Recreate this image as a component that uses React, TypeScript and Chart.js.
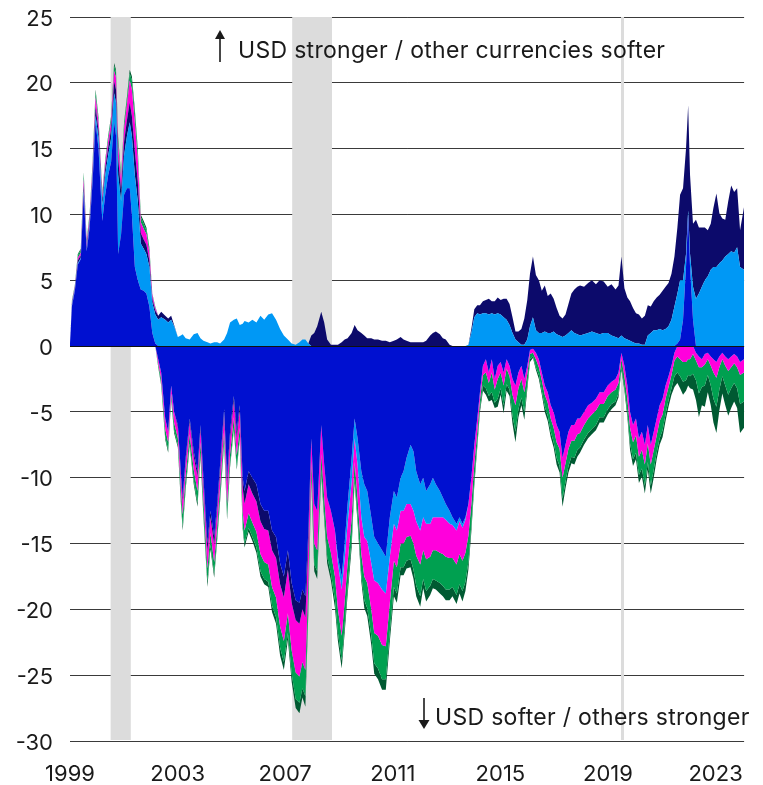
import React, { useEffect, useRef } from 'react';
import { Chart, registerables } from 'chart.js';

Chart.register(...registerables);

// ---- Data (decimal years; contributions in % points) ----
const dates = [
  1999.66, 1999.73, 1999.84, 1999.95, 2000.06, 2000.17, 2000.28, 2000.39, 2000.5, 2000.61,
  2000.72, 2000.86, 2000.97, 2001.08, 2001.19, 2001.3, 2001.37, 2001.45, 2001.56, 2001.67,
  2001.78, 2001.88, 2001.96, 2002.07, 2002.18, 2002.29, 2002.4, 2002.5, 2002.61, 2002.72,
  2002.83, 2002.94, 2003.05, 2003.2, 2003.31, 2003.42, 2003.53, 2003.67, 2003.78, 2003.85,
  2003.96, 2004.11, 2004.26, 2004.4, 2004.51, 2004.62, 2004.77, 2004.88, 2005.02, 2005.13,
  2005.24, 2005.39, 2005.5, 2005.61, 2005.75, 2005.86, 2005.97, 2006.08, 2006.15, 2006.3,
  2006.44, 2006.59, 2006.74, 2006.88, 2007.03, 2007.17, 2007.32, 2007.47, 2007.61, 2007.76,
  2007.9, 2008.05, 2008.19, 2008.3, 2008.41, 2008.52, 2008.63, 2008.74, 2008.85, 2009.0,
  2009.11, 2009.22, 2009.36, 2009.51, 2009.62, 2009.76, 2009.87, 2009.98, 2010.13, 2010.24,
  2010.35, 2010.49, 2010.6, 2010.71, 2010.86, 2010.97, 2011.11, 2011.26, 2011.4, 2011.55,
  2011.7, 2011.81, 2011.95, 2012.06, 2012.17, 2012.32, 2012.43, 2012.53, 2012.68, 2012.79,
  2012.9, 2013.05, 2013.15, 2013.26, 2013.41, 2013.52, 2013.63, 2013.77, 2013.88, 2014.03,
  2014.14, 2014.25, 2014.36, 2014.47, 2014.58, 2014.69, 2014.8, 2014.9, 2015.01, 2015.12,
  2015.23, 2015.34, 2015.45, 2015.56, 2015.67, 2015.78, 2015.89, 2016.0, 2016.11, 2016.22,
  2016.33, 2016.44, 2016.55, 2016.66, 2016.76, 2016.87, 2016.98, 2017.09, 2017.2, 2017.31,
  2017.42, 2017.53, 2017.64, 2017.75, 2017.86, 2017.97, 2018.08, 2018.19, 2018.3, 2018.41,
  2018.52, 2018.62, 2018.77, 2018.92, 2019.06, 2019.21, 2019.35, 2019.5, 2019.65, 2019.79,
  2019.94, 2020.05, 2020.16, 2020.27, 2020.38, 2020.48, 2020.59, 2020.7, 2020.81, 2020.92,
  2021.03, 2021.14, 2021.25, 2021.36, 2021.47, 2021.58, 2021.69, 2021.8, 2021.91, 2022.02,
  2022.13, 2022.24, 2022.34, 2022.45, 2022.56, 2022.64, 2022.71, 2022.82, 2022.93, 2023.04,
  2023.15, 2023.26, 2023.37, 2023.48, 2023.58, 2023.69, 2023.8, 2023.91, 2024.02, 2024.13,
  2024.24, 2024.35, 2024.46, 2024.57, 2024.72,
];

const blueSeries = [
  0.2, 3.0, 4.2, 6.2, 6.6, 11.6, 7.2, 9.0, 12.5, 17.0,
  15.0, 9.5, 11.5, 13.0, 14.0, 17.0, 16.0, 7.0, 8.5, 11.5,
  12.0, 12.0, 10.0, 6.0, 5.0, 4.3, 4.2, 4.0, 3.0, 1.0,
  0.2, -1.0, -2.0, -5.5, -6.5, -3.0, -5.0, -6.0, -9.5, -11.5,
  -8.5, -5.5, -8.0, -9.5, -6.0, -10.0, -15.0, -12.5, -14.5, -12.0,
  -9.0, -4.8, -10.0, -6.5, -3.8, -6.5, -4.5, -10.0, -11.0, -9.5,
  -10.0, -10.5, -12.0, -12.5, -12.5, -14.0, -14.5, -16.5, -17.5, -15.5,
  -18.0, -19.3, -19.5, -18.5, -19.0, -14.0, -7.0, -12.0, -12.5, -6.0,
  -9.0, -11.5, -12.5, -14.0, -16.0, -17.5, -15.0, -12.0, -8.5, -5.5,
  -7.0, -9.5, -10.5, -11.0, -13.0, -14.5, -15.0, -15.5, -16.0, -13.0,
  -11.0, -11.5, -10.0, -9.5, -8.5, -7.5, -8.0, -9.5, -10.5, -10.0,
  -11.0, -10.5, -10.0, -10.5, -11.0, -11.5, -12.0, -12.5, -13.0, -13.5,
  -13.0, -13.5, -13.0, -12.0, -10.0, -7.5, -5.5, -3.5, -1.5, -1.0,
  -2.0, -1.0, -2.5, -1.5, -1.2, -2.0, -1.0, -1.5, -2.5, -3.0,
  -2.0, -1.5, -2.5, -1.5, -0.3, -0.2, -0.5, -1.0, -2.0, -3.0,
  -3.5, -4.5, -5.0, -6.0, -6.5, -8.5, -7.5, -6.5, -6.0, -6.0,
  -5.5, -5.5, -5.0, -4.5, -4.3, -4.0, -3.5, -3.5, -3.0, -2.7,
  -2.5, -2.0, -0.5, -1.5, -3.0, -5.0, -6.0, -5.5, -7.0, -6.5,
  -7.5, -6.0, -7.5, -6.5, -5.5, -4.5, -4.0, -3.0, -2.3, -1.5,
  -0.5, 0.2, 0.5, 2.0, 6.0, 10.0, 6.0, 2.0, -0.5, -0.8,
  -1.0, -0.6, -0.5, -0.8, -1.0, -1.2, -0.8, -0.5, -0.8, -1.0,
  -0.8, -0.6, -0.8, -1.2, -1.0,
];

const lightBlueSeries = [
  0, 0.1, 0.1, 0.1, 0.1, 0.2, 0.1, 0.2, 0.3, 0.5,
  0.8, 1.2, 1.5, 1.5, 1.8, 2.2, 2.5, 6.0, 2.5, 3.0,
  4.0, 5.0, 6.0, 7.0, 6.0, 3.5, 3.2, 3.0, 3.0, 2.3,
  2.2, 2.0, 2.2, 2.0, 1.8, 2.0, 1.5, 0.7, 0.8, 0.9,
  0.6, 0.5, 0.9, 1.0, 0.6, 0.4, 0.3, 0.2, 0.3, 0.3,
  0.2, 0.5, 1.0, 1.8, 2.0, 2.1, 1.6, 1.7, 1.9, 1.8,
  2.0, 1.8, 2.3, 2.0, 2.4, 2.5, 2.0, 1.3, 0.8, 0.5,
  0.2, 0.1, 0.3, 0.5, 0.5, 0.2, 0, 0, 0, 0,
  0, 0, 0, 0, -0.5, -1.0, -1.2, -1.5, -1.8, -1.5,
  -2.0, -3.5, -4.0, -3.8, -3.5, -3.3, -3.0, -3.0, -2.8, -3.0,
  -2.5, -2.5, -2.5, -3.0, -3.5, -4.5, -4.5, -3.8, -3.5, -3.0,
  -2.5, -3.0, -3.0, -2.5, -2.0, -1.5, -1.2, -1.0, -0.6, -0.5,
  -0.3, -0.3, -0.2, 0.1, 1.0, 2.2, 2.5, 2.4, 2.5, 2.5,
  2.4, 2.5, 2.4, 2.5, 2.4, 2.2, 2.0, 1.6, 1.0, 0.5,
  0.3, 0.1, 0.1, 0.5, 1.5, 2.2, 1.2, 1.0, 1.0, 1.1,
  1.0, 1.0, 1.1, 0.9, 0.8, 0.7, 0.8, 1.0, 1.2, 1.0,
  0.9, 0.8, 0.9, 1.0, 1.1, 1.0, 0.9, 1.0, 1.0, 0.8,
  0.7, 0.6, 0.8, 0.6, 0.5, 0.4, 0.3, 0.2, 0.2, 0.1,
  0.1, 0.8, 1.0, 1.2, 1.2, 1.3, 1.2, 1.3, 1.5, 2.0,
  3.0, 3.8, 4.5, 3.0, 1.0, 0.3, 1.0, 2.5, 3.6, 4.0,
  4.5, 5.0, 5.3, 5.8, 6.0, 6.0, 6.3, 6.5, 6.8, 7.0,
  7.2, 7.1, 7.5, 6.0, 5.8,
];

const navySeries = [
  0, 0.1, 0.1, 0.2, 0.2, 0.4, 0.2, 0.3, 0.4, 0.7,
  0.6, 0.4, 0.5, 0.6, 0.7, 0.9, 1.0, 1.2, 0.8, 1.0,
  1.2, 1.5, 1.5, 1.8, 1.5, 0.8, 0.7, 0.7, 0.5, 0.3,
  0.3, 0.3, 0.4, 0.3, 0.3, 0.3, 0.1, -0.2, -0.3, -0.3,
  -0.3, -0.3, -0.4, -0.4, -0.3, -0.5, -0.6, -0.5, -0.6, -0.5,
  -0.5, -0.4, -0.5, -0.5, -0.4, -0.5, -0.4, -0.8, -1.0, -1.0,
  -1.2, -1.3, -1.3, -1.4, -1.5, -1.5, -1.6, -1.6, -1.6, -1.5,
  -1.5, -1.5, -1.6, -1.5, -1.6, -1.0, 0.8, 1.0, 1.5, 2.6,
  1.8, 0.5, 0.1, 0.1, 0.1, 0.3, 0.5, 0.6, 1.0, 1.6,
  1.2, 1.0, 0.8, 0.6, 0.6, 0.5, 0.5, 0.4, 0.4, 0.3,
  0.4, 0.5, 0.7, 0.5, 0.4, 0.3, 0.3, 0.3, 0.3, 0.3,
  0.4, 0.8, 1.0, 1.1, 0.9, 0.6, 0.5, 0.1, 0, 0,
  0, 0, 0, 0, 0.3, 0.6, 0.6, 0.7, 0.9, 1.0,
  1.2, 0.9, 1.0, 1.2, 1.1, 1.4, 1.6, 1.6, 1.2, 0.6,
  0.8, 1.2, 2.0, 3.0, 4.0, 4.6, 4.2, 4.0, 3.2, 3.5,
  2.8, 3.0, 2.5, 2.0, 1.5, 1.4, 1.6, 2.2, 2.8, 3.3,
  3.6, 3.8, 3.6, 3.8, 3.9, 3.7, 4.1, 3.9, 3.5, 3.9,
  3.6, 4.0, 6.0, 3.8, 3.2, 3.0, 2.6, 2.3, 2.2, 2.0,
  2.2, 2.3, 2.0, 2.2, 2.5, 2.6, 3.0, 3.2, 3.3, 3.5,
  3.8, 5.0, 6.5, 7.0, 8.0, 8.0, 6.0, 4.8, 6.0, 5.0,
  4.5, 4.0, 3.5, 3.5, 4.5, 5.6, 3.8, 3.2, 2.8, 4.0,
  5.0, 4.6, 4.5, 2.8, 4.8,
];

const magentaSeries = [
  0, 0.1, 0.1, 0.2, 0.2, 0.5, 0.3, 0.3, 0.4, 0.7,
  0.6, 0.3, 0.4, 0.5, 0.6, 0.8, 0.9, 1.0, 0.8, 1.0,
  1.2, 1.7, 2.0, 2.2, 1.7, 0.8, 0.8, 0.8, 0.6, 0.3,
  0.2, -0.3, -0.5, -0.8, -0.8, -0.6, -0.8, -0.8, -1.0, -1.0,
  -1.0, -0.9, -1.0, -1.1, -1.0, -1.2, -1.3, -1.2, -1.3, -1.2,
  -1.2, -1.2, -1.5, -1.2, -1.2, -1.3, -1.3, -1.8, -2.0, -2.2,
  -2.2, -2.3, -2.5, -2.5, -2.6, -2.8, -3.0, -3.2, -3.3, -3.3,
  -3.6, -4.0, -4.0, -4.0, -4.0, -3.0, -1.8, -3.0, -3.0, -2.2,
  -2.5, -3.0, -3.2, -3.5, -3.5, -3.5, -3.2, -3.0, -2.8, -1.8,
  -2.5, -2.8, -3.0, -3.2, -3.5, -4.0, -4.0, -4.2, -4.0, -3.5,
  -2.8, -2.8, -2.5, -2.5, -2.5, -2.4, -2.5, -2.6, -2.6, -2.5,
  -2.7, -2.5, -2.5, -2.5, -2.7, -2.8, -2.8, -2.6, -2.5, -2.6,
  -2.5, -2.5, -2.5, -2.4, -2.0, -1.5, -1.0, -0.6, -0.7, -1.0,
  -0.8, -1.0, -0.8, -1.0, -0.8, -1.0, -0.7, -0.8, -1.2, -1.5,
  -1.2, -1.0, -1.0, -0.6, -0.3, -0.3, -0.5, -0.6, -0.6, -0.7,
  -0.8, -1.0, -1.2, -1.3, -1.3, -1.5, -1.4, -1.3, -1.2, -1.2,
  -1.2, -1.1, -1.0, -1.0, -0.9, -0.9, -0.9, -0.9, -0.8, -0.8,
  -0.8, -0.8, -0.5, -0.8, -1.0, -1.2, -1.3, -1.3, -1.4, -1.4,
  -1.5, -1.4, -1.5, -1.4, -1.3, -1.2, -1.2, -1.0, -0.8, -0.7,
  -0.6, -0.8, -1.0, -1.2, -1.2, -1.0, -1.0, -0.6, -0.6, -0.8,
  -0.6, -0.8, -0.5, -0.7, -1.0, -1.2, -0.8, -0.5, -0.7, -0.9,
  -0.8, -0.7, -0.8, -1.0, -1.0,
];

const greenSeries = [
  0, 0.1, 0.1, 0.2, 0.2, 0.4, 0.2, 0.2, 0.3, 0.4,
  0.3, 0.2, 0.2, 0.3, 0.3, 0.4, 0.4, 0.5, 0.3, 0.4,
  0.4, 0.5, 0.7, 0.7, 0.6, 0.4, 0.4, 0.3, 0.3, 0.1,
  0.1, -0.2, -0.4, -0.6, -0.6, -0.4, -0.6, -0.5, -0.8, -0.9,
  -0.8, -0.7, -0.8, -0.9, -0.8, -1.0, -1.0, -0.9, -0.9, -0.8,
  -0.8, -0.7, -0.9, -0.8, -0.8, -0.9, -0.7, -1.0, -1.0, -1.1,
  -1.1, -1.2, -1.3, -1.3, -1.3, -1.4, -1.5, -1.6, -1.6, -1.5,
  -1.8, -2.0, -2.0, -2.0, -2.0, -1.7, -1.0, -1.6, -1.6, -1.2,
  -1.3, -1.5, -1.6, -1.8, -1.8, -1.9, -1.8, -1.8, -1.6, -1.2,
  -1.4, -1.6, -1.8, -1.9, -2.0, -2.3, -2.5, -2.6, -2.5, -2.2,
  -2.0, -2.0, -1.8, -1.8, -1.8, -1.8, -2.0, -2.3, -2.4, -2.2,
  -2.4, -2.2, -2.2, -2.3, -2.3, -2.4, -2.5, -2.4, -2.2, -2.3,
  -2.3, -2.3, -2.2, -2.0, -1.6, -1.2, -0.9, -0.6, -0.8, -1.2,
  -1.0, -1.5, -1.0, -1.5, -1.2, -1.5, -1.2, -1.0, -1.6, -2.0,
  -1.6, -1.4, -1.5, -0.8, -0.4, -0.3, -0.6, -0.6, -0.8, -0.9,
  -1.0, -1.0, -1.1, -1.2, -1.3, -1.6, -1.4, -1.3, -1.2, -1.3,
  -1.2, -1.1, -1.1, -1.1, -1.1, -1.1, -1.0, -1.0, -1.0, -0.9,
  -0.9, -0.8, -0.6, -0.8, -1.0, -1.2, -1.3, -1.3, -1.4, -1.4,
  -1.6, -1.4, -1.6, -1.5, -1.3, -1.3, -1.2, -1.2, -1.0, -1.0,
  -1.2, -1.2, -1.3, -1.5, -1.4, -1.2, -1.3, -1.5, -1.5, -2.0,
  -1.5, -1.6, -1.2, -1.5, -2.0, -2.2, -1.7, -1.3, -1.5, -1.8,
  -1.6, -1.5, -1.6, -2.2, -2.2,
];

const darkGreenSeries = [
  0, 0.05, 0.05, 0.1, 0.1, 0.1, 0.1, 0.1, 0.1, 0.2,
  0.1, 0.1, 0.1, 0.1, 0.1, 0.2, 0.2, 0.2, 0.1, 0.1,
  0.2, 0.3, 0.3, 0.3, 0.2, 0.2, 0.2, 0.2, 0.1, 0,
  0, -0.1, -0.1, -0.2, -0.2, -0.1, -0.2, -0.2, -0.3, -0.3,
  -0.3, -0.2, -0.3, -0.3, -0.3, -0.3, -0.4, -0.3, -0.3, -0.3,
  -0.3, -0.3, -0.3, -0.2, -0.2, -0.2, -0.2, -0.3, -0.3, -0.3,
  -0.3, -0.4, -0.4, -0.4, -0.4, -0.5, -0.5, -0.6, -0.6, -0.5,
  -0.6, -0.7, -0.8, -0.7, -0.8, -0.6, -0.4, -0.5, -0.6, -0.4,
  -0.4, -0.5, -0.5, -0.6, -0.6, -0.6, -0.6, -0.6, -0.6, -0.4,
  -0.5, -0.5, -0.6, -0.6, -0.7, -0.8, -0.8, -0.8, -0.8, -0.7,
  -0.7, -0.7, -0.6, -0.6, -0.6, -0.6, -0.7, -0.8, -0.8, -0.7,
  -0.8, -0.7, -0.7, -0.7, -0.8, -0.8, -0.8, -0.8, -0.7, -0.7,
  -0.7, -0.8, -0.7, -0.6, -0.5, -0.4, -0.3, -0.3, -0.4, -0.5,
  -0.4, -0.6, -0.4, -0.6, -0.5, -0.6, -0.5, -0.5, -0.6, -0.8,
  -0.6, -0.6, -0.6, -0.4, -0.2, -0.1, -0.2, -0.3, -0.3, -0.4,
  -0.4, -0.4, -0.4, -0.5, -0.5, -0.6, -0.5, -0.5, -0.5, -0.5,
  -0.5, -0.4, -0.4, -0.4, -0.4, -0.4, -0.4, -0.4, -0.4, -0.4,
  -0.3, -0.3, -0.2, -0.3, -0.4, -0.5, -0.5, -0.5, -0.6, -0.6,
  -0.6, -0.6, -0.6, -0.6, -0.5, -0.5, -0.5, -0.5, -0.5, -0.5,
  -0.8, -0.8, -0.9, -1.0, -0.8, -0.8, -0.9, -1.2, -1.5, -1.8,
  -1.4, -1.6, -1.3, -1.5, -1.8, -2.0, -1.6, -1.3, -1.5, -1.6,
  -1.5, -1.4, -1.5, -2.2, -2.0,
];

const seriesNames = ['Series A', 'Series B', 'Series C', 'Series D', 'Series E', 'Series F'];
const seriesColors = ['#0010D0', '#0098F5', '#0C0A6B', '#FF00DC', '#00A050', '#005A32'];
const seriesValues = [blueSeries, lightBlueSeries, navySeries, magentaSeries, greenSeries, darkGreenSeries];

const xTickDates = [1999.66, 2003.66, 2007.66, 2011.66, 2015.66, 2019.66, 2023.66];
const xTickLabels = ['1999', '2003', '2007', '2011', '2015', '2019', '2023'];
const recessions = [
  [2001.17, 2001.92],
  [2007.92, 2009.4],
];
const covidLine = 2020.2;

const X_MIN = 1999.66;
const X_MAX = 2024.72;
const Y_MIN = -30;
const Y_MAX = 25;

const topNote = 'USD stronger / other currencies softer';
const bottomNote = 'USD softer / others stronger';

const FONT = 'Inter, "Noto Sans", sans-serif';
const TEXT = '#1a1a1a';

const decorPlugin = {
  id: 'decor',
  beforeDatasetsDraw(chart: any) {
    const { ctx, chartArea, scales } = chart;
    const x = scales.x;
    ctx.save();
    ctx.fillStyle = '#DCDCDC';
    recessions.forEach(([a, b]) => {
      const x0 = x.getPixelForValue(a);
      const x1 = x.getPixelForValue(b);
      ctx.fillRect(x0, chartArea.top, x1 - x0, chartArea.bottom - chartArea.top - 1);
    });
    const lx = x.getPixelForValue(covidLine);
    ctx.fillRect(lx - 1.5, chartArea.top, 3, chartArea.bottom - chartArea.top - 1);
    ctx.restore();
  },
  afterDatasetsDraw(chart: any) {
    const { ctx, chartArea, scales } = chart;
    const y0 = Math.round(scales.y.getPixelForValue(0)) + 0.5;
    ctx.save();
    ctx.strokeStyle = '#111';
    ctx.lineWidth = 1;
    ctx.beginPath();
    ctx.moveTo(chartArea.left, y0);
    ctx.lineTo(chartArea.right, y0);
    ctx.stroke();

    ctx.fillStyle = TEXT;
    ctx.strokeStyle = TEXT;
    ctx.font = `23px ${FONT}`;
    try {
      (ctx as any).letterSpacing = '0.3px';
    } catch (e) {
      /* ignore */
    }
    ctx.textBaseline = 'alphabetic';
    ctx.textAlign = 'left';
    const L = chartArea.left;
    const T = chartArea.top;
    const B = chartArea.bottom;
    ctx.fillText(topNote, L + 168, T + 41);
    ctx.fillText(bottomNote, L + 365, B - 16);

    // up arrow
    ctx.lineWidth = 1.6;
    ctx.beginPath();
    ctx.moveTo(L + 150, T + 45);
    ctx.lineTo(L + 150, T + 20);
    ctx.stroke();
    ctx.beginPath();
    ctx.moveTo(L + 150, T + 13);
    ctx.lineTo(L + 145, T + 22);
    ctx.lineTo(L + 155, T + 22);
    ctx.closePath();
    ctx.fill();
    // down arrow
    ctx.beginPath();
    ctx.moveTo(L + 354, B - 43);
    ctx.lineTo(L + 354, B - 19);
    ctx.stroke();
    ctx.beginPath();
    ctx.moveTo(L + 354, B - 12);
    ctx.lineTo(L + 348.5, B - 21);
    ctx.lineTo(L + 359.5, B - 21);
    ctx.closePath();
    ctx.fill();
    ctx.restore();
  },
};

export default function App() {
  const ref = useRef<HTMLCanvasElement>(null);

  useEffect(() => {
    document.body.style.margin = '0';
    const canvas = ref.current;
    if (!canvas) return;

    const makeSet = (idx: number, sign: 1 | -1) => ({
      label: `${seriesNames[idx]} ${sign > 0 ? '+' : '-'}`,
      data: dates.map((d, k) => ({
        x: d,
        y: sign > 0 ? Math.max(seriesValues[idx][k], 0) : Math.min(seriesValues[idx][k], 0),
      })),
      backgroundColor: seriesColors[idx],
      borderColor: seriesColors[idx],
      borderWidth: 0,
      pointRadius: 0,
      tension: 0,
      fill: idx === 0 ? 'origin' : '-1',
      stack: sign > 0 ? 'pos' : 'neg',
    });

    const datasets = [
      ...seriesValues.map((_, i) => makeSet(i, 1)),
      ...seriesValues.map((_, i) => makeSet(i, -1)),
    ];

    const chart = new Chart(canvas, {
      type: 'line',
      data: { datasets } as any,
      options: {
        animation: false,
        responsive: true,
        maintainAspectRatio: false,
        devicePixelRatio: 1,
        layout: { padding: { top: 17, right: 6, bottom: 0, left: 0 } },
        plugins: { legend: { display: false }, tooltip: { enabled: false } },
        scales: {
          x: {
            type: 'linear',
            min: X_MIN,
            max: X_MAX,
            grid: { display: false, drawTicks: false },
            border: { display: false },
            afterBuildTicks: (s: any) => {
              s.ticks = xTickDates.map((v) => ({ value: v }));
            },
            afterFit: (s: any) => {
              s.height = 44;
            },
            ticks: {
              padding: 20,
              maxRotation: 0,
              autoSkip: false,
              color: TEXT,
              font: { family: FONT, size: 22 },
              callback: (_v: any, i: number) => xTickLabels[i],
            },
          },
          y: {
            stacked: true,
            min: Y_MIN,
            max: Y_MAX,
            afterFit: (s: any) => {
              s.width = 70;
              s.paddingTop = 0;
              s.paddingBottom = 0;
            },
            grid: { color: '#3a3a3a', lineWidth: 1, drawTicks: false },
            border: { display: false },
            ticks: {
              stepSize: 5,
              padding: 17,
              labelOffset: 2,
              color: TEXT,
              font: { family: FONT, size: 22 },
            },
          },
        },
      } as any,
      plugins: [decorPlugin],
    });
    return () => chart.destroy();
  }, []);

  return (
    <div style={{ position: 'relative', width: 763, height: 785 }}>
      <canvas ref={ref} />
    </div>
  );
}
